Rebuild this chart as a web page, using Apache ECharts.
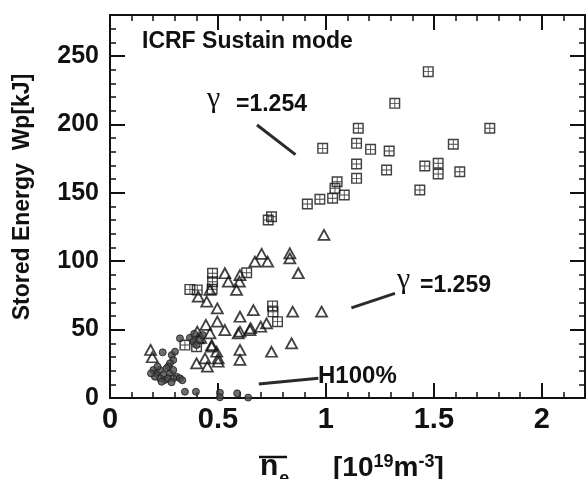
<!DOCTYPE html>
<html><head><meta charset="utf-8">
<script src="https://cdn.jsdelivr.net/npm/echarts@6/dist/echarts.min.js"></script>
<style>html,body{margin:0;padding:0;background:#fff}#c{width:587px;height:479px}</style>
</head><body><div id="c"></div>
<script>
// ---- data ----
const xTickLabels = ['0', '0.5', '1', '1.5', '2'];
const yTickLabels = ['0', '50', '100', '150', '200', '250'];

// gamma = 1.254 group (boxed-cross squares)
const squareData = [
  [1.474,238.6],[1.319,215.4],[1.150,197.2],[1.759,197.2],[0.985,182.5],[1.142,186.2],
  [1.207,181.8],[1.293,180.6],[1.590,185.5],[1.142,171.1],[1.142,160.6],[1.281,166.7],
  [1.458,169.6],[1.520,171.6],[1.520,163.8],[1.620,165.4],[1.435,152.1],[1.052,158.1],
  [1.042,153.3],[1.031,146.0],[1.085,148.4],[0.972,145.3],[0.914,141.8],[0.748,132.5],
  [0.733,130.1],[0.475,91.2],[0.475,85.0],[0.473,79.5],[0.370,79.4],[0.404,79.0],
  [0.633,91.6],[0.753,67.3],[0.755,63.0],[0.776,55.8],[0.347,38.7],[0.401,37.5]
];
// gamma = 1.259 group (open triangles)
const triangleData = [
  [0.991,119.2],[0.702,105.3],[0.671,99.7],[0.730,99.7],[0.833,105.8],[0.833,102.1],
  [0.872,91.2],[0.532,91.2],[0.548,85.0],[0.602,89.9],[0.599,85.0],[0.586,79.0],
  [0.463,79.0],[0.409,74.1],[0.448,70.4],[0.497,65.5],[0.664,64.3],[0.602,59.4],
  [0.846,63.1],[0.980,63.1],[0.497,55.8],[0.444,53.4],[0.404,48.5],[0.532,49.7],
  [0.602,48.5],[0.651,51.0],[0.698,52.1],[0.725,54.6],[0.463,47.3],[0.471,37.5],
  [0.494,33.8],[0.501,29.0],[0.440,29.0],[0.401,25.3],[0.451,22.9],[0.501,26.5],
  [0.602,35.1],[0.602,27.8],[0.748,33.8],[0.841,40.0],[0.188,35.1],[0.196,29.8],
  [0.409,43.6],[0.471,38.7],[0.594,47.3],[0.648,49.7],[0.420,44.0]
];
// H100% group (filled circles)
const circleData = [
  [0.324,43.6],[0.244,33.4],[0.286,31.4],[0.293,27.8],[0.278,25.4],[0.301,33.9],[0.270,23.0],
  [0.201,20.5],[0.216,18.0],[0.231,20.5],[0.247,16.8],[0.262,21.7],[0.278,18.0],[0.293,20.5],
  [0.309,15.6],[0.324,14.4],[0.255,13.2],[0.231,14.4],[0.208,15.6],[0.270,14.4],[0.293,14.4],
  [0.239,11.9],[0.190,18.0],[0.220,23.0],[0.285,11.5],[0.335,13.0],
  [0.370,44.0],[0.386,41.2],[0.401,38.7],[0.417,42.4],[0.430,46.0],[0.390,47.0],
  [0.347,4.6],[0.398,4.6],[0.509,3.9],[0.509,0.5],[0.589,3.4],[0.640,0.3]
];

// ---- chart ----
const FF = '"Liberation Sans", Arial, Helvetica, sans-serif';
const INK = '#111';
const chart = echarts.init(document.getElementById('c'), null, {renderer: 'canvas'});

function fmtX(v) {
  const i = xTickLabels.findIndex(s => Math.abs(parseFloat(s) - v) < 1e-6);
  return i >= 0 ? xTickLabels[i] : '';
}
function fmtY(v) {
  const i = yTickLabels.findIndex(s => Math.abs(parseFloat(s) - v) < 1e-6);
  return i >= 0 ? yTickLabels[i] : '';
}
function axis(type, pos, max, interval, len, line, label) {
  const a = {
    type: 'value', position: pos, min: 0, max: max, interval: interval,
    axisLine: {show: line, onZero: false, lineStyle: {color: INK, width: 2}},
    axisTick: {show: true, inside: true, length: len, lineStyle: {color: INK, width: len > 8 ? 2 : 1.5}},
    axisLabel: {show: false},
    splitLine: {show: false}, minorTick: {show: false}
  };
  if (label) {
    a.axisLabel = {show: true, color: INK, fontFamily: FF, fontWeight: 'bold',
      fontSize: type === 'x' ? 29 : 25, margin: type === 'x' ? 7 : 11,
      formatter: type === 'x' ? fmtX : fmtY};
  }
  return a;
}

const boxPath = 'path://M0 0L20 0L20 20L0 20Z' +
  'M2.6 2.6L2.6 9.2L9.2 9.2L9.2 2.6Z M10.8 2.6L10.8 9.2L17.4 9.2L17.4 2.6Z' +
  'M2.6 10.8L2.6 17.4L9.2 17.4L9.2 10.8Z M10.8 10.8L10.8 17.4L17.4 17.4L17.4 10.8Z';

// measure for x-axis title pieces
const ctx = document.createElement('canvas').getContext('2d');
function tw(t, size) { ctx.font = 'bold ' + size + 'px ' + FF; return ctx.measureText(t).width; }
function txt(t, x, y, size, extra) {
  const st = Object.assign({text: t, fill: INK, fontFamily: FF, fontWeight: 'bold', fontSize: size,
    textAlign: 'left', textVerticalAlign: 'middle', align: 'left', verticalAlign: 'middle'}, extra || {});
  return {type: 'text', x: x, y: y, style: st, silent: true};
}
const graphics = [];
graphics.push(txt('ICRF Sustain mode', 142, 41.5, 23));
graphics.push(txt('γ', 207, 99, 30, {fontFamily: '"Liberation Serif", "DejaVu Serif", serif', fontWeight: 'normal'}));
graphics.push(txt('=1.254', 236, 104.5, 23));
graphics.push(txt('γ', 397, 280, 30, {fontFamily: '"Liberation Serif", "DejaVu Serif", serif', fontWeight: 'normal'}));
graphics.push(txt('=1.259', 420, 285.5, 23));
graphics.push(txt('H100%', 318, 376, 24));
// y title
graphics.push({type: 'text', x: 23, y: 197, rotation: Math.PI / 2, silent: true,
  style: {text: 'Stored Energy  Wp[kJ]', fill: INK, fontFamily: FF, fontWeight: 'bold', fontSize: 23,
    textAlign: 'center', textVerticalAlign: 'middle', align: 'center', verticalAlign: 'middle'}});
// x title: n_e with overline, then [10^19 m^-3]
graphics.push(txt('n', 260, 477 - 0.35 * 30, 30));
graphics.push(txt('e', 260 + tw('n', 30) + 1, 485 - 0.35 * 18, 18));
graphics.push({type: 'line', silent: true, shape: {x1: 259, y1: 457, x2: 287, y2: 457},
  style: {stroke: INK, lineWidth: 2.5}});
(function () {
  let x = 333;
  const parts = [['[10', 28, 478], ['19', 18, 468], ['m', 28, 478], ['-3', 18, 468], [']', 28, 478]];
  parts.forEach(p => {
    graphics.push(txt(p[0], x, p[2] - 0.35 * p[1], p[1]));
    x += tw(p[0], p[1]);
  });
})();

const option = {
  animation: false,
  backgroundColor: '#fff',
  grid: {left: 110, right: 2, top: 15, bottom: 81, outerBoundsMode: 'none', containLabel: false},
  xAxis: [
    axis('x', 'bottom', 2.2, 0.1, 6, true, true),
    axis('x', 'bottom', 2.2, 0.5, 15, false, false),
    axis('x', 'top', 2.2, 0.1, 6, true, false),
    axis('x', 'top', 2.2, 0.5, 15, false, false)
  ],
  yAxis: [
    axis('y', 'left', 280, 10, 6, true, true),
    axis('y', 'left', 280, 50, 15, false, false),
    axis('y', 'right', 280, 10, 6, true, false),
    axis('y', 'right', 280, 50, 15, false, false)
  ],
  series: [
    {type: 'scatter', name: 'gamma1.254', data: squareData, symbol: boxPath, symbolSize: 11,
      itemStyle: {color: INK}, silent: true, emphasis: {disabled: true}},
    {type: 'scatter', name: 'gamma1.259', data: triangleData, symbol: 'triangle', symbolSize: [11, 10],
      itemStyle: {color: 'rgba(255,255,255,0)', borderColor: INK, borderWidth: 1.8}, silent: true, emphasis: {disabled: true}},
    {type: 'scatter', name: 'H100', data: circleData, symbol: 'circle', symbolSize: 7,
      itemStyle: {color: '#4a4a4a', borderColor: '#1a1a1a', borderWidth: 1}, silent: true, emphasis: {disabled: true},
      markLine: {
        silent: true, animation: false, symbol: ['none', 'arrow'], symbolSize: [1, [15, 26]],
        label: {show: false}, emphasis: {disabled: true},
        lineStyle: {color: '#2a2a2a', width: 3, type: 'solid'},
        data: [
          [{coord: [0.681, 199.6]}, {coord: [0.859, 177.9]}],
          [{coord: [1.320, 76.5]}, {coord: [1.118, 65.9]}],
          [{coord: [0.965, 14.4]}, {coord: [0.689, 10.3]}]
        ]
      }}
  ],
  graphic: graphics
};
chart.setOption(option);
</script></body></html>
